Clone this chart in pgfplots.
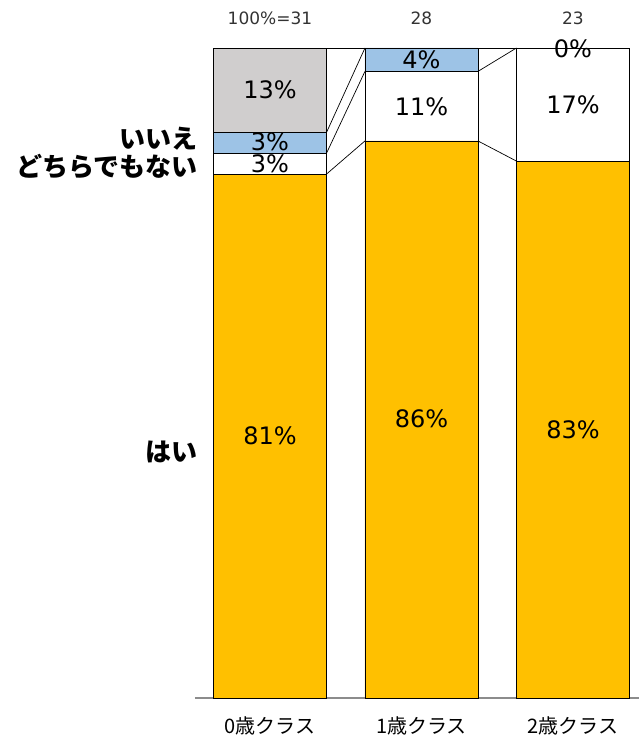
\documentclass[border=0pt]{standalone}
\usepackage{fontspec}
\usepackage{pgfplots}
\usepackage{pgfplotstable}
\pgfplotsset{compat=1.18}
\setmainfont{DejaVu Sans}
\newfontfamily\jp{Noto Sans CJK JP}

\definecolor{hai}{HTML}{FFC000}
\definecolor{iie}{HTML}{9DC3E6}
\definecolor{mugray}{HTML}{D0CECE}

% share of answers per class (%), 100% = 31, 28, 23
\pgfplotstableread{
cls hai dochira iie mu
0 80.6 3.2 3.2 13.0
1 85.7 10.7 3.6 0
2 82.6 17.4 0 0
}\data

\pgfplotsset{
  chartframe/.style={
    at={(0pt,0pt)}, anchor=south west,
    scale only axis, width=444pt, height=650pt,
    xmin=-0.495, xmax=2.436, ymin=0, ymax=100,
    clip=false,
  },
}
\tikzset{
  pct/.style={font=\fontsize{24}{28}\selectfont, inner sep=0pt},
  num/.style={font=\fontsize{17}{20}\selectfont, text=black!80},
  side/.style={font=\jp\bfseries\fontsize{26}{30}\selectfont, anchor=east, inner sep=0pt},
}

\begin{document}
\begin{tikzpicture}
\useasboundingbox (-195pt,-47pt) rectangle (444pt,698pt);
\begin{axis}[
    chartframe,
    ybar stacked,
    bar width=0.746,
    axis y line=none,
    axis x line=bottom,
    x axis line style={-, draw=black!45, line width=1.6pt},
    xtick=data,
    xtick style={draw=none},
    xticklabels={0歳クラス,1歳クラス,2歳クラス},
    xticklabel style={font=\jp\fontsize{20}{24}\selectfont, anchor=center, yshift=-26pt},
]
    \addplot[draw=black, line width=0.7pt, fill=hai] table[x=cls, y=hai] {\data};
    \addplot[draw=black, line width=0.7pt, fill=white] table[x=cls, y=dochira] {\data};
    \addplot[draw=black, line width=0.7pt, fill=iie] table[x=cls, y=iie] {\data};
    \addplot[draw=black, line width=0.7pt, fill=mugray] table[x=cls, y=mu] {\data};
\end{axis}

% series lines between the bars, and all texts on top
\begin{axis}[chartframe, hide axis]
    \addplot[black, line width=0.7pt] coordinates {(0.373,80.6) (0.627,85.7)};
    \addplot[black, line width=0.7pt] coordinates {(1.373,85.7) (1.627,82.6)};
    \addplot[black, line width=0.7pt] coordinates {(0.373,83.8) (0.627,96.4)};
    \addplot[black, line width=0.7pt] coordinates {(1.373,96.4) (1.627,100)};
    \addplot[black, line width=0.7pt] coordinates {(0.373,87.0) (0.627,100)};
    \addplot[black, line width=0.7pt] coordinates {(1.373,100) (1.627,100)};
    \addplot[black, line width=0.7pt] coordinates {(0.373,100) (0.627,100)};

    % segment labels
    \node[pct] at (axis cs:0,40.3) {81\%};
    \node[pct] at (axis cs:0,82.2) {3\%};
    \node[pct] at (axis cs:0,85.5) {3\%};
    \node[pct] at (axis cs:0,93.5) {13\%};
    \node[pct] at (axis cs:1,42.9) {86\%};
    \node[pct] at (axis cs:1,91.0) {11\%};
    \node[pct] at (axis cs:1,98.2) {4\%};
    \node[pct] at (axis cs:2,41.3) {83\%};
    \node[pct] at (axis cs:2,91.3) {17\%};
    \node[pct] at (axis cs:2,99.9) {0\%};

    % sample sizes
    \node[num] at (axis cs:0,104.6) {100\%=31};
    \node[num] at (axis cs:1,104.6) {28};
    \node[num] at (axis cs:2,104.6) {23};

    % category names at the left
    \node[side] at (axis cs:-0.475,86.0) {いいえ};
    \node[side] at (axis cs:-0.475,81.7) {どちらでもない};
    \node[side] at (axis cs:-0.475,37.9) {はい};
\end{axis}
\end{tikzpicture}
\end{document}
